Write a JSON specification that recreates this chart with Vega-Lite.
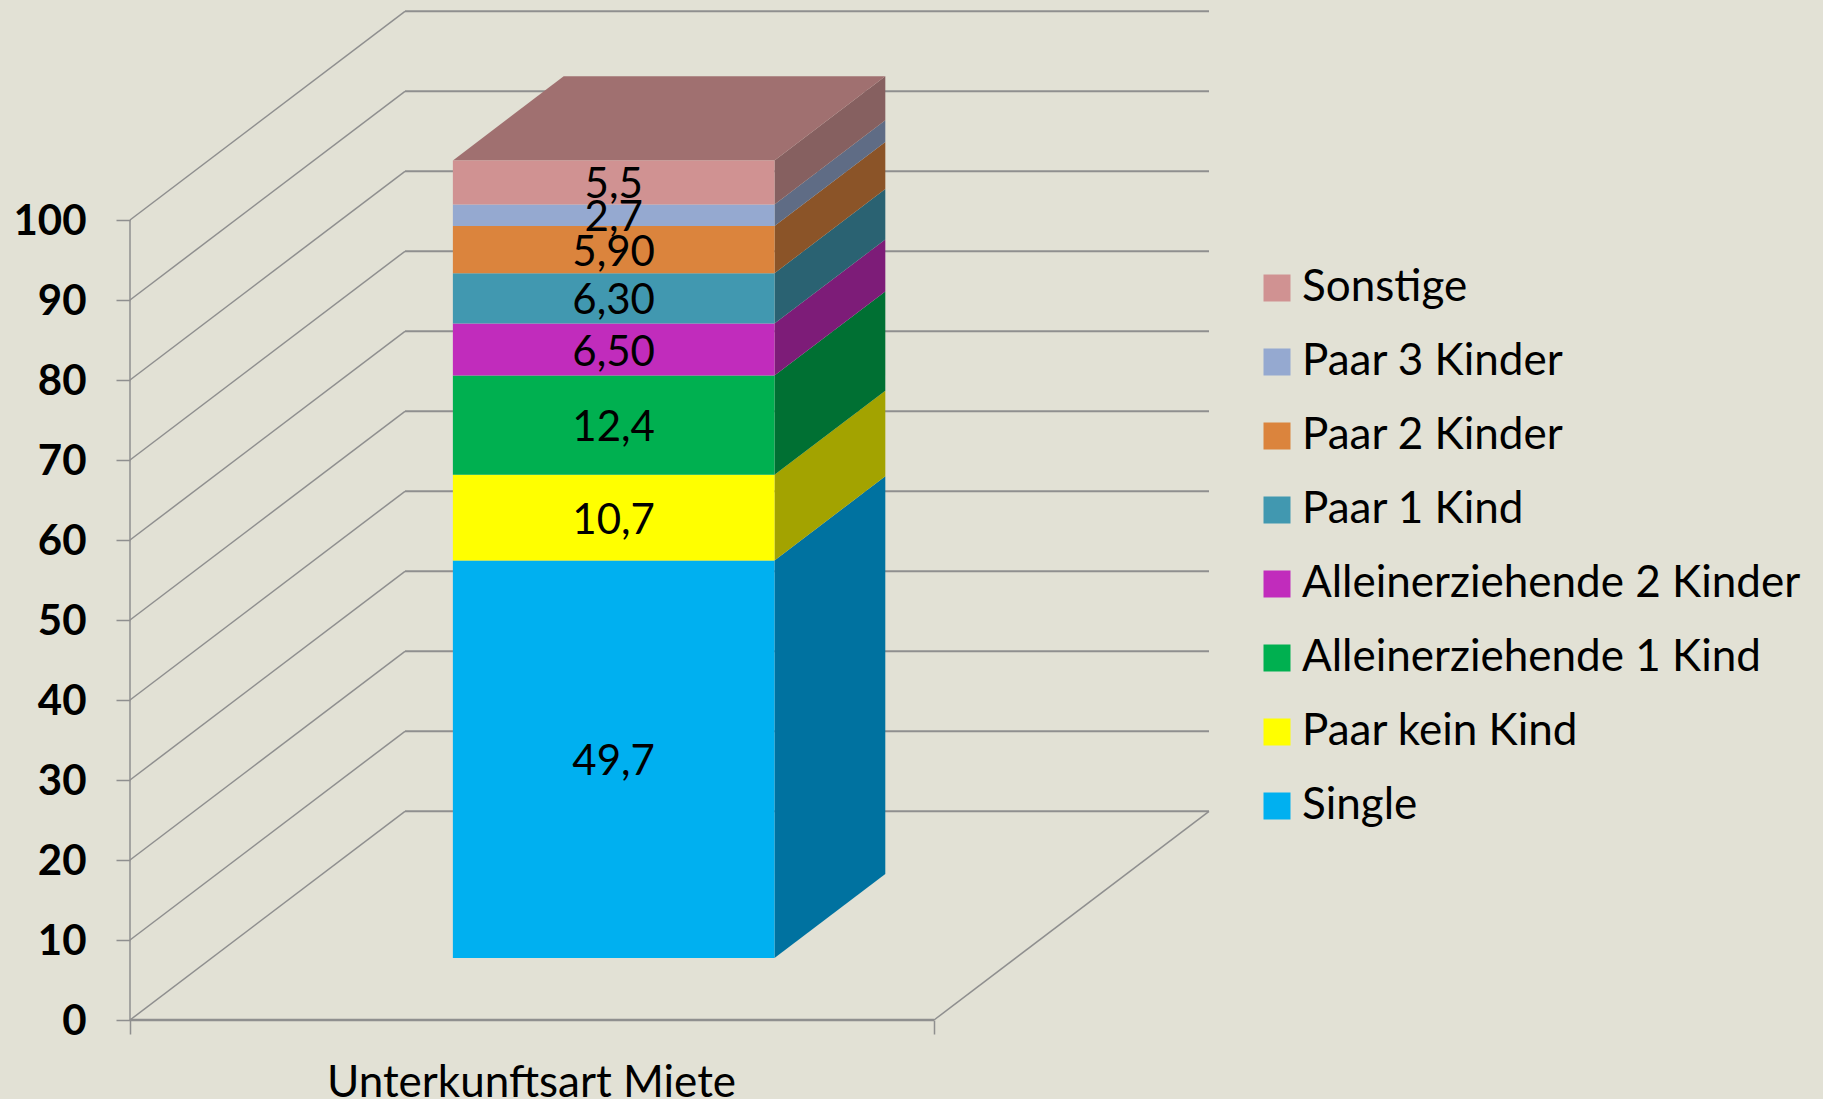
{"$schema":"https://vega.github.io/schema/vega-lite/v6.json","width":1079,"height":1020,"autosize":{"type":"none"},"padding":{"left":130,"top":0,"right":614,"bottom":79},"background":"#E2E1D5","view":{"stroke":null},"config":{"font":"Lato","axis":{"labelFont":"Lato","titleFont":"Lato"},"legend":{"labelFont":"Lato"}},
"datasets":{"segments":[{"series":"Single","value":49.7,"label":"49,7"},{"series":"Paar kein Kind","value":10.7,"label":"10,7"},{"series":"Alleinerziehende 1 Kind","value":12.4,"label":"12,4"},{"series":"Alleinerziehende 2 Kinder","value":6.5,"label":"6,50"},{"series":"Paar 1 Kind","value":6.3,"label":"6,30"},{"series":"Paar 2 Kinder","value":5.9,"label":"5,90"},{"series":"Paar 3 Kinder","value":2.7,"label":"2,7"},{"series":"Sonstige","value":5.5,"label":"5,5"}],
"levels":[{"level":0},{"level":10},{"level":20},{"level":30},{"level":40},{"level":50},{"level":60},{"level":70},{"level":80},{"level":90},{"level":100}]},
"layer":[
{"data":{"name":"levels"},"transform":[{"calculate":"datum.level+26.09","as":"backLevel"}],"mark":{"type":"rule","color":"#8F8F8F","strokeWidth":1.5},"encoding":{"x":{"datum":0,"type":"quantitative","scale":{"domain":[0,1.342],"nice":false,"zero":false},"axis":{"values":[0,1],"labels":false,"domain":false,"grid":false,"ticks":true,"tickSize":14,"tickColor":"#8F8F8F","tickWidth":1.5,"title":"Unterkunftsart Miete","titleFontSize":44,"titleFontWeight":"normal","titleColor":"#000000","titleX":401,"titleY":76,"titleBaseline":"alphabetic","titleAnchor":"middle"}},"x2":{"datum":0.342},"y":{"field":"level","type":"quantitative","scale":{"domain":[0,127.5],"nice":false,"zero":false},"axis":{"values":[0,10,20,30,40,50,60,70,80,90,100],"domain":false,"grid":false,"ticks":true,"tickSize":14,"tickColor":"#8F8F8F","tickWidth":1.5,"labelFontSize":42,"labelFontWeight":"bold","labelColor":"#000000","labelPadding":30,"labelOffset":1,"title":null}},"y2":{"field":"backLevel"}}},
{"data":{"name":"levels"},"transform":[{"calculate":"datum.level+26.09","as":"backLevel"}],"mark":{"type":"rule","color":"#8F8F8F","strokeWidth":2},"encoding":{"x":{"datum":0.342,"type":"quantitative"},"x2":{"datum":1.342},"y":{"field":"backLevel","type":"quantitative"}}},
{"data":{"name":"levels"},"mark":{"type":"line","color":"#8F8F8F","strokeWidth":1.5},"encoding":{"x":{"datum":0,"type":"quantitative"},"y":{"field":"level","type":"quantitative"}}},
{"data":{"name":"levels"},"transform":[{"filter":"datum.level==0"}],"mark":{"type":"rule","color":"#8F8F8F","strokeWidth":2.5},"encoding":{"x":{"datum":0,"type":"quantitative"},"x2":{"datum":1},"y":{"field":"level","type":"quantitative"}}},
{"data":{"name":"levels"},"transform":[{"filter":"datum.level==0"},{"calculate":"datum.level+26.09","as":"backLevel"}],"mark":{"type":"rule","color":"#8F8F8F","strokeWidth":1.5},"encoding":{"x":{"datum":1,"type":"quantitative"},"x2":{"datum":1.342},"y":{"field":"level","type":"quantitative"},"y2":{"field":"backLevel"}}},
{"data":{"name":"segments"},"transform":[{"stack":"value","groupby":[],"as":["lo","hi"]},{"calculate":"[0.297,0.7]","as":"depth"},{"flatten":["depth"]},{"calculate":"0.7+datum.depth*0.342","as":"sx"},{"calculate":"datum.hi+datum.depth*26.09","as":"sy"},{"calculate":"datum.lo+datum.depth*26.09","as":"sy2"}],"mark":{"type":"area","orient":"vertical"},"encoding":{"x":{"field":"sx","type":"quantitative"},"y":{"field":"sy","type":"quantitative","stack":null},"y2":{"field":"sy2"},"detail":{"field":"series"},"color":{"field":"series","type":"nominal","legend":null,"scale":{"domain":["Sonstige","Paar 3 Kinder","Paar 2 Kinder","Paar 1 Kind","Alleinerziehende 2 Kinder","Alleinerziehende 1 Kind","Paar kein Kind","Single"],"range":["#866060","#5F6C85","#8B5428","#2A6272","#7D1C78","#007033","#A3A300","#0072A0"]}}}},
{"data":{"name":"segments"},"transform":[{"stack":"value","groupby":[],"as":["lo","hi"]},{"filter":"datum.series=='Sonstige'"},{"calculate":"[0.297,0.7]","as":"depth"},{"flatten":["depth"]},{"calculate":"0.3+datum.depth*0.342","as":"tx"},{"calculate":"0.7+datum.depth*0.342","as":"tx2"},{"calculate":"datum.hi+datum.depth*26.09","as":"ty"}],"mark":{"type":"area","orient":"horizontal","color":"#A07070"},"encoding":{"x":{"field":"tx","type":"quantitative","stack":null},"x2":{"field":"tx2"},"y":{"field":"ty","type":"quantitative"}}},
{"data":{"name":"segments"},"transform":[{"stack":"value","groupby":[],"as":["lo","hi"]},{"calculate":"0.3+0.297*0.342","as":"fx"},{"calculate":"0.7+0.297*0.342","as":"fx2"},{"calculate":"datum.lo+0.297*26.09","as":"fy"},{"calculate":"datum.hi+0.297*26.09","as":"fy2"}],"mark":{"type":"rect"},"encoding":{"x":{"field":"fx","type":"quantitative"},"x2":{"field":"fx2"},"y":{"field":"fy","type":"quantitative"},"y2":{"field":"fy2"},"color":{"field":"series","type":"nominal","scale":{"domain":["Sonstige","Paar 3 Kinder","Paar 2 Kinder","Paar 1 Kind","Alleinerziehende 2 Kinder","Alleinerziehende 1 Kind","Paar kein Kind","Single"],"range":["#D09292","#95A9D0","#DB843D","#4198B0","#C12CBC","#00B050","#FFFF00","#00B0F0"]},"legend":{"orient":"none","legendX":1125,"legendY":266,"title":null,"padding":0,"symbolType":"square","symbolSize":729,"symbolStrokeWidth":0,"labelFontSize":44,"labelColor":"#000000","labelOffset":3,"rowPadding":30,"labelLimit":700}}}},
{"data":{"name":"segments"},"transform":[{"stack":"value","groupby":[],"as":["lo","hi"]},{"calculate":"0.5+0.297*0.342","as":"cx"},{"calculate":"(datum.lo+datum.hi)/2+0.297*26.09","as":"cy"}],"mark":{"type":"text","fontSize":42,"color":"#000000","baseline":"middle","align":"center","dy":3},"encoding":{"x":{"field":"cx","type":"quantitative"},"y":{"field":"cy","type":"quantitative"},"text":{"field":"label"}}}
],"resolve":{"scale":{"color":"independent"}}}
